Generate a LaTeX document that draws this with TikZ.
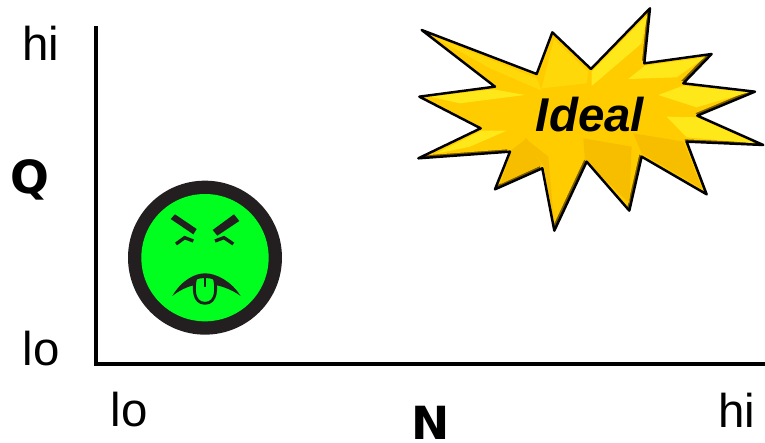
\documentclass[tikz,border=0pt]{standalone}
\usepackage{fontspec}
\setmainfont{Liberation Sans}
\newfontfamily\labelfont{DejaVu Sans}
\usetikzlibrary{positioning}
\definecolor{ink}{HTML}{000000}
\definecolor{facering}{HTML}{231F20}
\definecolor{facegreen}{HTML}{00FF1E}
\definecolor{gold}{HTML}{FFCC00}
\definecolor{golddark}{HTML}{7A5C00}
\definecolor{goldlight}{HTML}{FFE81A}
\definecolor{goldmid}{HTML}{FFD80A}
\definecolor{goldshade}{HTML}{F7BE00}
\tikzset{
  axisline/.style={line width=2.2pt,draw=ink},
  ticklabel/.style={font=\fontsize{27}{27}\selectfont,text=ink,inner sep=0pt},
  axisname/.style={font=\labelfont\bfseries\fontsize{26}{26}\selectfont,text=ink,inner sep=0pt},
  idealtext/.style={font=\bfseries\itshape\fontsize{27}{27}\selectfont,text=ink,inner sep=0pt},
  brow/.style={fill=facering},
  squint/.style={draw=facering,line width=1.9pt,line join=miter}
}
\def\starpath{(35,90)--(380,222)--(427,97)--(543,207)--(720,25)--(703,190)--(905,162)--(820,250)--(1035,275)--(862,347)--(1060,435)--(830,425)--(890,583)--(695,470)--(658,632)--(530,485)--(433,692)--(397,505)--(255,568)--(300,455)--(25,475)--(212,385)--(28,290)--(255,260)--cycle}
\begin{document}
\begin{tikzpicture}[x=0.02cm,y=-0.02cm]
  \useasboundingbox (0,0) rectangle (765,443);
  % axes
  \coordinate (origin) at (96,364);
  \coordinate (qtop) at (96,26);
  \coordinate (nend) at (765,364);
  \draw[axisline,line join=miter] (qtop) -- (origin) -- (nend);
  \node[ticklabel] (qhi) at (41,43) {hi};
  \node[ticklabel] (qlo) at (41,349) {lo};
  \node[axisname] (qname) at (30,180) {Q};
  \node[ticklabel] (nlo) at (129,410) {lo};
  \node[ticklabel] (nhi) at (737,410) {hi};
  \node[axisname] (nname) at (431,423) {N};
  % face
  \begin{scope}[shift={(110,170)},scale=0.3333]
    \fill[facering] (285,263) circle (231);
    \fill[facegreen] (285,263) circle (191);
    \fill[brow] (182,147)--(195,133)--(260,177)--(250,193)--cycle;
    \fill[brow] (372,133)--(388,153)--(322,197)--(308,180)--cycle;
    \draw[squint] (198,222)--(224,203)--(250,213);
    \draw[squint] (315,213)--(342,203)--(370,222);
    \fill[facering] (187,378) .. controls (215,330) and (255,310) .. (285,310) .. controls (320,310) and (365,335) .. (392,378) .. controls (365,358) and (325,342) .. (285,342) .. controls (245,342) and (212,358) .. (187,378) -- cycle;
    \draw[facering,line width=1.6pt,fill=facegreen] (257,325) .. controls (250,350) and (248,400) .. (285,400) .. controls (322,400) and (320,350) .. (313,325) .. controls (300,318) and (270,318) .. (257,325) -- cycle;
    \draw[facering,line width=0.7pt] (285,322) -- (285,352);
  \end{scope}
  % star
  \begin{scope}[shift={(410,0)},scale=0.3333]
    \fill[golddark] \starpath;
    \begin{scope}
      \clip \starpath;
      \fill[gold,shift={(-7,-7)}] \starpath;
      \foreach \pa/\pb/\pc/\pd/\col in {
        {(75,112)}/{(380,235)}/{(395,272)}/{(240,205)}/goldmid,
        {(60,290)}/{(250,268)}/{(345,285)}/{(150,310)}/goldlight,
        {(75,462)}/{(215,392)}/{(290,392)}/{(180,440)}/goldlight,
        {(432,118)}/{(535,215)}/{(530,250)}/{(395,265)}/goldmid,
        {(712,45)}/{(695,130)}/{(545,258)}/{(545,215)}/goldlight,
        {(885,172)}/{(800,232)}/{(655,237)}/{(705,197)}/goldlight,
        {(1015,277)}/{(860,322)}/{(745,285)}/{(820,257)}/goldlight,
        {(1035,430)}/{(830,412)}/{(770,350)}/{(860,352)}/goldlight,
        {(432,665)}/{(402,500)}/{(345,415)}/{(415,470)}/goldshade,
        {(658,610)}/{(525,480)}/{(520,415)}/{(665,440)}/goldshade,
        {(875,565)}/{(695,460)}/{(670,400)}/{(820,425)}/goldshade,
        {(272,552)}/{(305,450)}/{(350,415)}/{(395,495)}/goldshade%
      } {
        \fill[\col] \pa -- \pb -- \pc -- \pd -- cycle;
      }
    \end{scope}
    \draw[ink,line width=1.4pt,line join=round] \starpath;
    \node[idealtext] (ideal) at (540,345) {Ideal};
  \end{scope}
\end{tikzpicture}
\end{document}
